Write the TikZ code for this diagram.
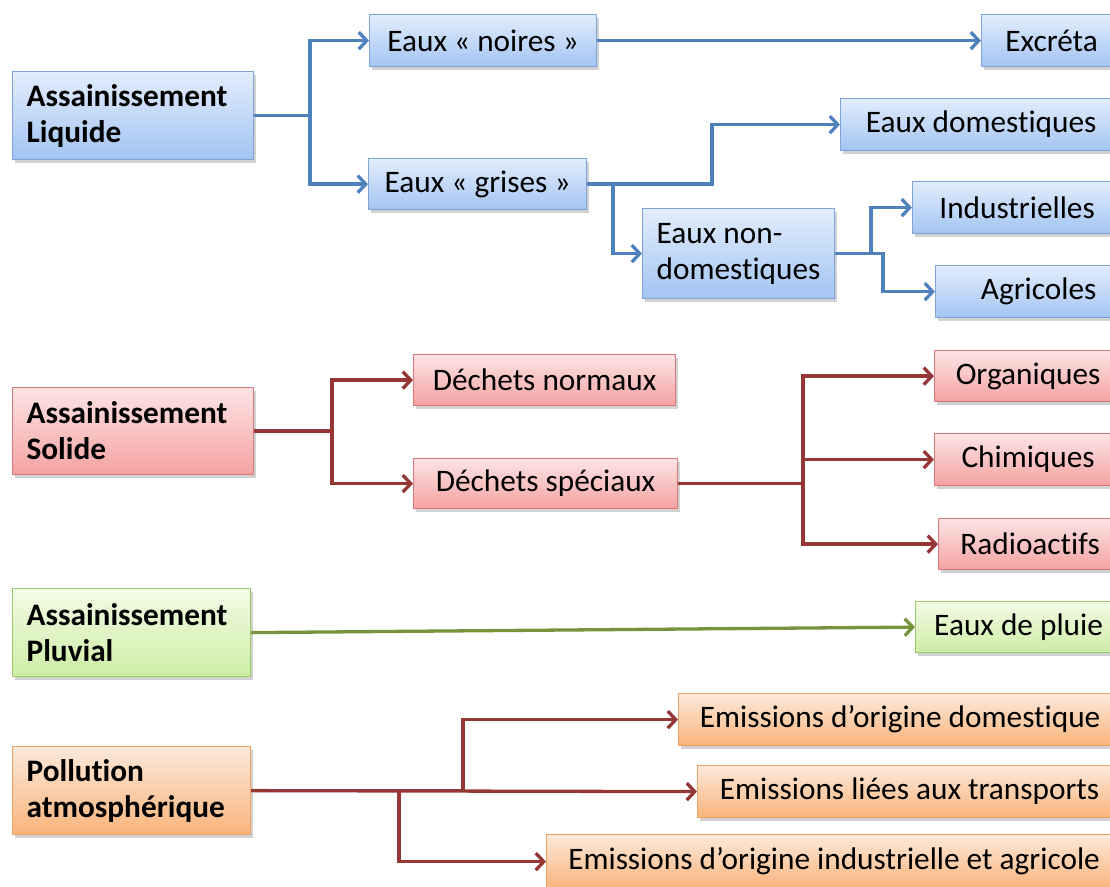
\documentclass[tikz,border=0pt]{standalone}
\usepackage{fontspec}
\setmainfont{Carlito}[Ligatures={NoCommon,NoContextual,NoRequired}]
\usetikzlibrary{arrows.meta,shadows}
\definecolor{bTop}{HTML}{E2EDFC}
\definecolor{bBot}{HTML}{A3C4F3}
\definecolor{bBrd}{HTML}{7EA3D8}
\definecolor{bLn}{HTML}{4F81BD}
\definecolor{rTop}{HTML}{FDE4E4}
\definecolor{rBot}{HTML}{F4A2A2}
\definecolor{rBrd}{HTML}{D87878}
\definecolor{rLn}{HTML}{953735}
\definecolor{gTop}{HTML}{F3FBE6}
\definecolor{gBot}{HTML}{CDEDA5}
\definecolor{gBrd}{HTML}{9BCB6B}
\definecolor{gLn}{HTML}{77933C}
\definecolor{oTop}{HTML}{FDE9DA}
\definecolor{oBot}{HTML}{F9B47C}
\definecolor{oBrd}{HTML}{F0A262}
\tikzset{
  box/.style={rectangle, line width=1.2pt, anchor=north west, inner xsep=14pt, inner ysep=0pt,
    font=\fontsize{31.3}{36}\selectfont,
    drop shadow={shadow xshift=2pt, shadow yshift=-3pt, opacity=0.25, fill=black!70}},
  bbox/.style={box, draw=bBrd, top color=bTop, bottom color=bBot},
  rbox/.style={box, draw=rBrd, top color=rTop, bottom color=rBot},
  gbox/.style={box, draw=gBrd, top color=gTop, bottom color=gBot},
  obox/.style={box, draw=oBrd, top color=oTop, bottom color=oBot},
  mainbox/.style={text width=#1, align=flush left, font=\fontsize{31.3}{36}\selectfont\bfseries},
  conn/.style={line width=3.3pt, -{Straight Barb[length=8pt,width=17pt]}},
  bl/.style={conn, draw=bLn},
  rl/.style={conn, draw=rLn},
  gl/.style={conn, draw=gLn},
}
\begin{document}
\begin{tikzpicture}[x=1pt, y=-1pt]
\useasboundingbox (0,0) rectangle (1110,886);
% ---------- Liquide ----------
\node[bbox, mainbox=213pt, minimum height=88pt] (al) at (12,71) {Assainissement\\Liquide};
\node[bbox, minimum width=227pt, minimum height=52pt] (noires) at (369,14) {Eaux «~noires~»};
\node[bbox, minimum width=140pt, minimum height=52pt] (excreta) at (981,14) {Excréta};
\node[bbox, minimum width=218pt, minimum height=51pt] (grises) at (368,158) {Eaux «~grises~»};
\node[bbox, minimum width=281pt, minimum height=52pt] (dom) at (840,98) {Eaux domestiques};
\node[bbox, text width=164pt, align=flush left, minimum height=90pt] (nd) at (642,208) {Eaux non-\\domestiques};
\node[bbox, minimum width=209pt, minimum height=52pt] (ind) at (912,181) {Industrielles};
\node[bbox, minimum width=186pt, minimum height=52pt] (agr) at (935,265) {\hspace*{20pt}Agricoles};
\coordinate (j1) at (310,0);
\coordinate (j2) at (712,0);
\coordinate (j3) at (613,0);
\coordinate (j4) at (871,0);
\coordinate (j5) at (883,0);
\draw[bl] (al.east) -- (al.east -| j1) |- (noires.west);
\draw[bl] (al.east) -- (al.east -| j1) |- (grises.west);
\draw[bl] (noires.east) -- (excreta.west);
\draw[bl] (grises.east) -- (grises.east -| j2) |- (dom.west);
\draw[bl] (grises.east) -- (grises.east -| j3) |- (nd.west);
\draw[bl] (nd.east) -- (nd.east -| j4) |- (ind.west);
\draw[bl] (nd.east) -- (nd.east -| j5) |- (agr.west);
% ---------- Solide ----------
\node[rbox, mainbox=213pt, minimum height=87pt] (as) at (12,387) {Assainissement\\Solide};
\node[rbox, minimum width=262pt, minimum height=51pt] (dn) at (413,354) {Déchets normaux};
\node[rbox, minimum width=264pt, minimum height=50pt] (ds) at (413,458) {Déchets spéciaux};
\node[rbox, minimum width=187pt, minimum height=51pt] (org) at (934,350) {Organiques};
\node[rbox, minimum width=187pt, minimum height=52pt] (chim) at (934,433) {Chimiques};
\node[rbox, minimum width=183pt, minimum height=51pt] (radio) at (938,518) {Radioactifs};
\coordinate (j6) at (332,0);
\coordinate (j7) at (803,0);
\draw[rl] (as.east) -- (as.east -| j6) |- (dn.west);
\draw[rl] (as.east) -- (as.east -| j6) |- (ds.west);
\draw[rl] (ds.east) -- (ds.east -| j7) |- (org.west);
\draw[rl] (ds.east) -- (ds.east -| j7) |- (chim.west);
\draw[rl] (ds.east) -- (ds.east -| j7) |- (radio.west);
% ---------- Pluvial ----------
\node[gbox, mainbox=210pt, minimum height=88pt] (ap) at (12,588) {Assainissement\\Pluvial};
\node[gbox, minimum width=206pt, minimum height=51pt] (pluie) at (915,601) {Eaux de pluie};
\draw[gl] (ap.east) -- (pluie.west);
% ---------- Pollution ----------
\node[obox, mainbox=210pt, minimum height=88pt] (pa) at (12,746) {Pollution\\atmosphérique};
\node[obox, minimum width=443pt, minimum height=52pt] (e1) at (678,693) {Emissions d’origine domestique};
\node[obox, minimum width=424pt, minimum height=52pt] (e2) at (697,765) {Emissions liées aux transports};
\node[obox, minimum width=575pt, minimum height=54pt] (e3) at (546,834) {Emissions d’origine industrielle et agricole};
\coordinate (j8) at (463,0);
\coordinate (j9) at (399,0);
\draw[rl] (pa.east) -- (e2.west);
\draw[rl] (pa.east) -- (pa.east -| j8) |- (e1.west);
\draw[rl] (pa.east) -- (pa.east -| j9) |- (e3.west);
\end{tikzpicture}
\end{document}
